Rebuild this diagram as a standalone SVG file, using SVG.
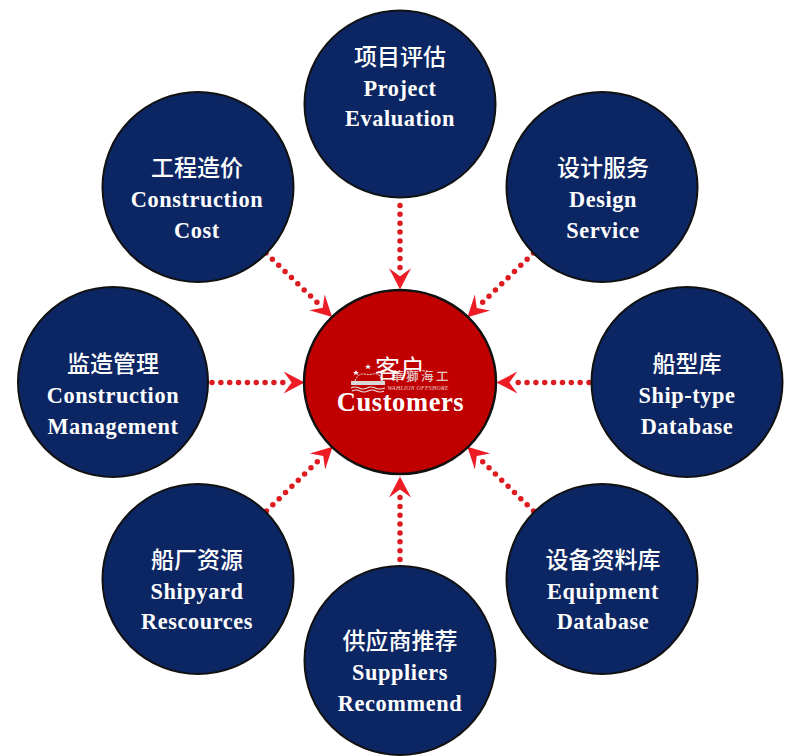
<svg xmlns="http://www.w3.org/2000/svg" width="800" height="756" viewBox="0 0 800 756">
<style>
.n{fill:#0c2663;stroke:#111;stroke-width:2}
.c{fill:#c00000;stroke:#111;stroke-width:2.5}
text{text-anchor:middle;fill:#fff}
.cn{font:500 23px "Noto Sans CJK SC",sans-serif}
.en{font:bold 22.300px "Liberation Serif",serif;letter-spacing:.6px}
.d{stroke:#dc1c20;stroke-width:5.5;stroke-linecap:round;stroke-dasharray:0 8.85;fill:none;marker-end:url(#h)}
</style>
<defs>
<marker id="h" markerUnits="userSpaceOnUse" markerWidth="24" markerHeight="26" refX="0" refY="12" orient="auto" overflow="visible">
<path d="M0 1L21 12L0 23L8 12Z" fill="#ee1c25"/>
</marker>
</defs>
<rect width="800" height="756" fill="#fff"/>
<g id="connectors">
<path class="d" d="M400 205.500V268.200"/>
<path class="d" d="M533.500 253L482.500 302.500"/>
<path class="d" d="M589 382.500H517.400"/>
<path class="d" d="M533.500 511L482.500 461.500"/>
<path class="d" d="M400 559.500V497.400"/>
<path class="d" d="M266.500 511L317.500 461.500"/>
<path class="d" d="M212 382.500H283.600"/>
<path class="d" d="M266 253L317 302.300"/>
</g>
<g id="project"><ellipse class="n" cx="400" cy="104" rx="95.500" ry="93.500"/><text class="cn" x="400" y="65">项目评估</text><text class="en" x="400" y="96">Project</text><text class="en" x="400" y="126">Evaluation</text></g>
<g id="design"><ellipse class="n" cx="602" cy="187" rx="95.500" ry="95"/><text class="cn" x="603" y="176">设计服务</text><text class="en" x="603" y="207">Design</text><text class="en" x="603" y="238">Service</text></g>
<g id="shiptype"><ellipse class="n" cx="687" cy="382" rx="95.500" ry="95"/><text class="cn" x="687" y="372">船型库</text><text class="en" x="687" y="403">Ship-type</text><text class="en" x="687" y="434">Database</text></g>
<g id="equipment"><ellipse class="n" cx="602" cy="579" rx="95.500" ry="95"/><text class="cn" x="603" y="568">设备资料库</text><text class="en" x="603" y="599">Equipment</text><text class="en" x="603" y="629">Database</text></g>
<g id="suppliers"><ellipse class="n" cx="400" cy="660.500" rx="95.500" ry="94.500"/><text class="cn" x="400" y="649">供应商推荐</text><text class="en" x="400" y="680">Suppliers</text><text class="en" x="400" y="711">Recommend</text></g>
<g id="shipyard"><ellipse class="n" cx="198" cy="579" rx="95.500" ry="95"/><text class="cn" x="197" y="568">船厂资源</text><text class="en" x="197" y="599">Shipyard</text><text class="en" x="197" y="629">Rescources</text></g>
<g id="management"><ellipse class="n" cx="113" cy="382" rx="95" ry="95"/><text class="cn" x="113" y="372">监造管理</text><text class="en" x="113" y="403">Construction</text><text class="en" x="113" y="434">Management</text></g>
<g id="cost"><ellipse class="n" cx="198" cy="187" rx="95.500" ry="95"/><text class="cn" x="197" y="176">工程造价</text><text class="en" x="197" y="207">Construction</text><text class="en" x="197" y="238">Cost</text></g>
<g id="customers">
<ellipse class="c" cx="400" cy="382" rx="96" ry="92"/>
<rect x="351" y="381" width="34" height="4" fill="#d8d8d8"/>
<path d="M351 388q4-2 8 0t8 0 8 0 10 0M352 391q4-2 8 0t8 0 8 0 8 0" fill="none" stroke="#e6e6e6" stroke-width="1.200"/>
<path d="M355 381q3-8 9-7t9 0 6 1l4 6" fill="none" stroke="#e6e6e6" stroke-width="1" stroke-dasharray="2 1"/>
<path d="M356 370l1 2 2 0-1.500 1.300 .5 2-2-1.200-2 1.200 .5-2-1.500-1.300 2 0zM368 364l1 2 2 0-1.500 1.300 .5 2-2-1.200-2 1.200 .5-2-1.500-1.300 2 0z" fill="#f0f0f0"/>
<text x="421" y="381" style="font:500 12.500px 'Noto Sans CJK TC',sans-serif;letter-spacing:2.500px;fill:#e4c8c8">華獅海工</text>
<text x="418" y="390" style="font:italic 5.800px 'Liberation Serif',serif;letter-spacing:.3px;fill:#e8d0d0">WAHLION OFFSHORE</text>
<text x="400" y="378" style="font:400 25px 'Noto Sans CJK SC',sans-serif">客户</text>
<text x="400.500" y="411" style="font:bold 26.500px 'Liberation Serif',serif;letter-spacing:.6px">Customers</text>
</g>
</svg>
